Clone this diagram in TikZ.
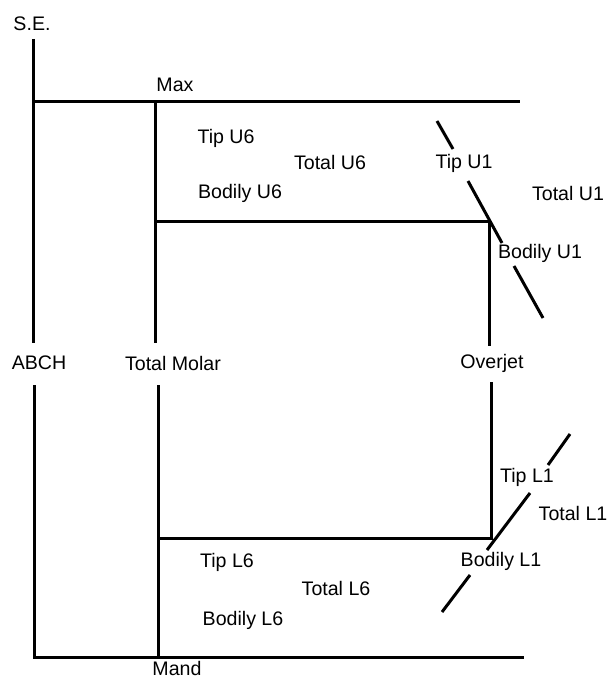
\documentclass[tikz,border=0pt]{standalone}
\usepackage{fontspec}
\setmainfont{Liberation Sans}
\usetikzlibrary{
    positioning,
    calc
}

\tikzset{
    rule/.style={line width=1.5pt},
    lbl/.style={inner sep=0pt, font=\fontsize{9.8}{11}\selectfont}
}

\begin{document}
\begin{tikzpicture}[x=0.5pt,y=-0.5pt]
    \useasboundingbox (0,0) rectangle (609,679);

    % labels on the main lines
    \node[lbl] (se) at (32,24) {S.E.};
    \node[lbl] (max) at (175,85) {Max};
    \node[lbl] (mand) at (177,668) {Mand};
    \node[lbl] (abch) at (39,363) {ABCH};
    \node[lbl] (molar) at (173,363) {Total Molar};
    \node[lbl] (overjet) at (492,363) {Overjet};

    % upper teeth
    \node[lbl] (tipU6) at (226,138) {Tip U6};
    \node[lbl] (totU6) at (330,162) {Total U6};
    \node[lbl] (bodU6) at (240,193) {Bodily U6};
    \node[lbl] (tipU1) at (464,163) {Tip U1};
    \node[lbl] (totU1) at (568,193) {Total U1};
    \node[lbl] (bodU1) at (540,253) {Bodily U1};

    % lower teeth
    \node[lbl] (tipL6) at (227,562) {Tip L6};
    \node[lbl] (totL6) at (336,588) {Total L6};
    \node[lbl] (bodL6) at (243,620) {Bodily L6};
    \node[lbl] (tipL1) at (527,477) {Tip L1};
    \node[lbl] (totL1) at (573,513) {Total L1};
    \node[lbl] (bodL1) at (501,561) {Bodily L1};

    % ends of the lines
    \coordinate (seTop) at (33,39);
    \coordinate (abchUp) at (33,343);
    \coordinate (abchLo) at (34,385);
    \coordinate (mandL) at (34,657);
    \coordinate (mandR) at (524,657);
    \coordinate (maxL) at (33,102);
    \coordinate (maxR) at (520,102);
    \coordinate (molTop) at (155,102);
    \coordinate (molUp) at (155,343);
    \coordinate (molLo) at (158,385);
    \coordinate (molBot) at (158,657);
    \coordinate (boxU) at (155,222);
    \coordinate (cornU) at (489,222);
    \coordinate (ojUp) at (489,346);
    \coordinate (ojLo) at (491,382);
    \coordinate (cornL) at (491,538);
    \coordinate (boxL) at (158,538);

    % main frame
    \draw[rule] (seTop) -- (abchUp);
    \draw[rule] (abchLo) -- (mandL) -- (mandR);
    \draw[rule] (maxL) -- (maxR);
    \draw[rule] (molTop) -- (molUp);
    \draw[rule] (molLo) -- (molBot);
    \draw[rule] (boxU) -- (cornU) -- (ojUp);
    \draw[rule] (ojLo) -- (cornL) -- (boxL);

    % incisor U1
    \draw[rule] (437,121) -- (453,149);
    \draw[rule] (468,181) -- (502,243);
    \draw[rule] (514,266) -- (543,318);

    % incisor L1
    \draw[rule] (570,434) -- (548,465);
    \draw[rule] (530,493) -- (487,550);
    \draw[rule] (470,575) -- (442,612);
\end{tikzpicture}
\end{document}
